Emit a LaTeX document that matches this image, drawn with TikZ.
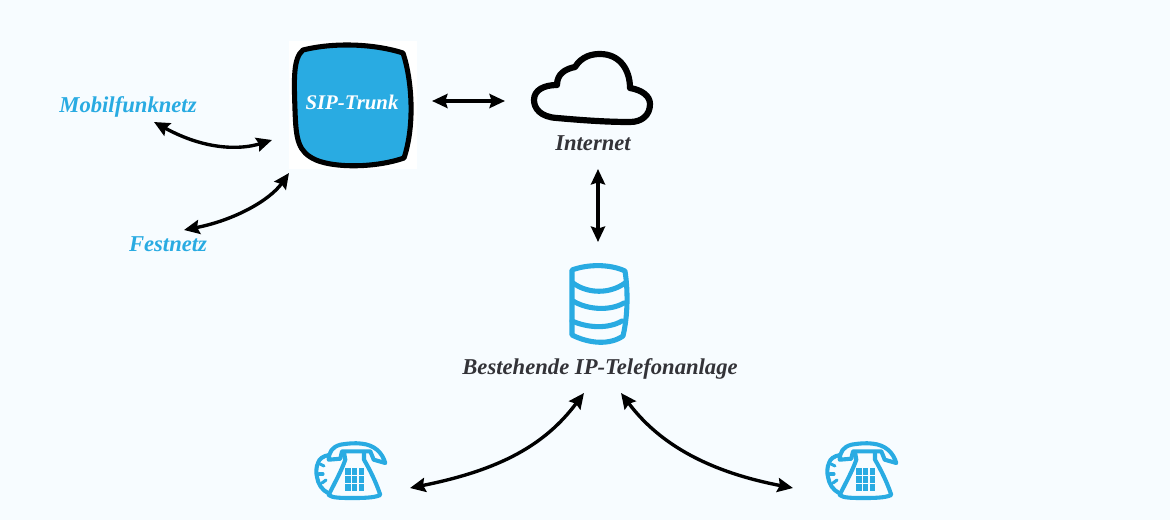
\documentclass[tikz,border=0pt]{standalone}
\usepackage{fontspec}
\setmainfont{Liberation Serif}
\usetikzlibrary{arrows, arrows.meta}
\definecolor{sipblue}{HTML}{29ABE2}
\definecolor{labelgray}{HTML}{333338}
\definecolor{pagebg}{HTML}{F7FCFF}
\tikzset{
    label/.style={font=\fontsize{16.1}{19}\selectfont\bfseries\itshape, inner sep=0pt},
    link/.style={line width=2.4pt, {Stealth[length=11pt,width=10pt,inset=1.5pt]}-{Stealth[length=11pt,width=10pt,inset=1.5pt]}},
    thicklink/.style={link, line width=2.9pt},
    icon/.style={draw=sipblue, line width=3.6pt, line join=round, line cap=round},
    phoneline/.style={icon, line width=2.9pt},
    phone/.pic={
        \draw[phoneline] (-21.3,-10.3) .. controls (-21,-18) and (-18,-23) .. (-9.7,-25.3)
            .. controls (0,-27) and (8,-27) .. (12,-26.3) .. controls (24,-25) and (32,-18) .. (35.3,-7)
            -- (23.7,-10.3) -- (20.3,-18.7) -- (-8,-18.7) -- (-9.7,-11.3) -- cycle;
        \draw[phoneline] (-6,-18) -- (-4.7,-10.3) .. controls (-9,2) and (-16,14) .. (-21.3,25)
            .. controls (-18,28) and (-8,28) .. (2,28) .. controls (12,28) and (24,28) .. (30.3,25)
            .. controls (26,12) and (20,0) .. (14,-10.3) -- (14,-18);
        \draw[phoneline] (-21,-15) .. controls (-27,-14) and (-31,-11) .. (-32,-7)
            .. controls (-34,-3) and (-34,3) .. (-33,7) .. controls (-32,14) and (-28,20) .. (-22,23);
        \draw[phoneline, line width=2.2pt] (-30,-6) -- (-26,-4);
        \draw[phoneline, line width=2.2pt] (-31,4) -- (-27,4);
        \draw[phoneline, line width=2.2pt] (-28,13) -- (-24,10);
        \foreach \col in {0,1,2} \foreach \row in {0,1,2}
            \fill[sipblue] (-4.7+\col*6.6,-2+\row*8) rectangle ++(5.4,6.6);
    }
}

\begin{document}
\begin{tikzpicture}[x=0.025cm, y=-0.025cm]
\fill[pagebg] (0,0) rectangle (1170,520);
\useasboundingbox (0,0) rectangle (1170,520);

\fill[white] (289,41) rectangle (417,169);
\draw[line width=3.6pt, line join=round, fill=sipblue] (303,50) .. controls (335,42) and (375,44) .. (403,53)
    .. controls (412,80) and (415,125) .. (404,158) .. controls (375,168) and (335,168) .. (316,160)
    .. controls (298,152) and (296,140) .. (295,110) .. controls (294,80) and (293,58) .. (303,50) -- cycle;
\node[label, text=white, font=\fontsize{14.8}{18}\selectfont\bfseries\itshape] (Trunk) at (352,102) {SIP-Trunk};

\draw[line width=4.4pt, line join=round] (557,118) .. controls (540,117) and (534,108) .. (534,100)
    .. controls (534,90) and (544,85) .. (557,85) .. controls (557,74) and (565,69) .. (575,67)
    .. controls (582,56) and (592,54) .. (600,54) .. controls (620,54) and (630,70) .. (630,88)
    .. controls (642,90) and (650,96) .. (650,104) .. controls (650,115) and (642,122) .. (630,122)
    .. controls (605,122) and (580,120) .. (557,118) -- cycle;
\node[label, text=labelgray] (Internet) at (593,143) {Internet};

\draw[icon] (572,270) .. controls (588,264) and (610,264) .. (625,271)
    .. controls (628,290) and (628,315) .. (623,336) .. controls (610,345) and (590,344) .. (572,335) -- cycle;
\draw[icon] (573,283) .. controls (588,294) and (610,294) .. (625,283);
\draw[icon] (573,301) .. controls (588,310) and (610,311) .. (624,303);
\draw[icon] (572,321) .. controls (588,328) and (608,329) .. (622,321);
\node[label, text=labelgray] (Anlage) at (600,369) {Bestehende IP-Telefonanlage};

\node[label, text=sipblue] (Mobil) at (128,107) {Mobilfunknetz};
\node[label, text=sipblue] (Fest) at (168,244) {Festnetz};

\pic (PhoneA) at (350,470) {phone};
\pic (PhoneB) at (861,470) {phone};

\coordinate (MobilEnd) at (154,122);
\coordinate (TrunkW) at (272,140);
\coordinate (FestEnd) at (184,230);
\coordinate (TrunkS) at (289,173);
\coordinate (TrunkE) at (432,101);
\coordinate (CloudW) at (505,101);
\coordinate (InternetS) at (598,169);
\coordinate (AnlageN) at (598,242);
\coordinate (AnlageL) at (584,393);
\coordinate (AnlageR) at (621,393);
\coordinate (PhoneAE) at (410,488);
\coordinate (PhoneBW) at (793,488);

\draw[link] (MobilEnd) .. controls (205,150) and (240,150) .. (TrunkW);
\draw[link] (FestEnd) .. controls (235,220) and (270,200) .. (TrunkS);
\draw[thicklink] (TrunkE) -- (CloudW);
\draw[thicklink] (InternetS) -- (AnlageN);
\draw[link] (PhoneAE) .. controls (500,470) and (545,445) .. (AnlageL);
\draw[link] (AnlageR) .. controls (660,445) and (710,472) .. (PhoneBW);
\end{tikzpicture}
\end{document}
